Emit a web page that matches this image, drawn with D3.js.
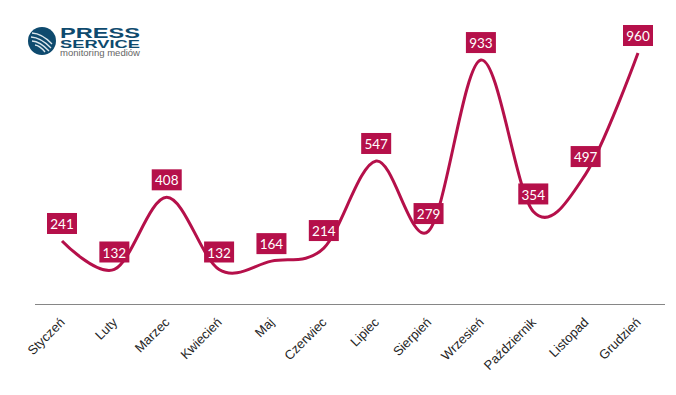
<!DOCTYPE html>
<html lang="en">
<head>
<meta charset="utf-8">
<title>Press Service</title>
<script src="https://d3js.org/d3.v7.min.js"></script>
<style>
  html, body { margin: 0; background: #fff; }
  svg { display: block; font-family: Lato, sans-serif; }
  .axis text { font-size: 13px; fill: #262626; }
  .labels { font-size: 13.5px; fill: #fff; }
</style>
</head>
<body>
<script>
// Data
const months = ["Styczeń", "Luty", "Marzec", "Kwiecień", "Maj", "Czerwiec", "Lipiec", "Sierpień", "Wrzesień", "Październik", "Listopad", "Grudzień"];
const counts = [241, 132, 408, 132, 164, 214, 547, 279, 933, 354, 497, 960];

// constants
const w = 676, h = 395;
const lineColor = "#b5104a";
const navy = "#0e4a6e";

const svg = d3.select("body").append("svg").attr("width", w).attr("height", h);

const x = d3.scalePoint().domain(months).range([62, 638]);
const y = d3.scaleLinear().domain([0, 960]).range([304, 53]);

// axis
const axis = svg.append("g")
  .attr("class", "axis")
  .attr("transform", "translate(0,304)")
  .call(d3.axisBottom(x).tickSize(0).tickSizeOuter(0));
axis.select(".domain").remove();
axis.append("line").attr("x1", 35).attr("x2", 665).attr("y1", 0.5).attr("y2", 0.5)
  .attr("stroke", "#868686").attr("stroke-width", 1);
axis.selectAll("text")
  .attr("text-anchor", "end")
  .attr("dy", 0)
  .attr("transform", "translate(1,17) rotate(-45)");

// line
const line = d3.line()
  .x((d, i) => x(months[i]))
  .y(d => y(d))
  .curve(d3.curveCardinal.tension(0));

svg.append("path")
  .datum(counts)
  .attr("fill", "none")
  .attr("stroke", lineColor)
  .attr("stroke-width", 3)
  .attr("d", line);

// labels
const labels = svg.selectAll("g.label")
  .data(counts)
  .enter()
  .append("g")
  .attr("class", "label")
  .attr("transform", (d, i) => "translate(" + x(months[i]) + "," + (y(d) - 17.5) + ")");

labels.append("rect")
  .attr("x", -15).attr("y", -10.5)
  .attr("width", 30).attr("height", 21)
  .attr("fill", lineColor);

labels.append("text")
  .attr("class", "labels")
  .attr("text-anchor", "middle")
  .attr("dy", "0.42em")
  .text(d => d);

// logo
const logo = svg.append("g").attr("transform", "translate(42,41)");
logo.append("circle").attr("r", 14).attr("fill", navy);
[[-10, -8, 10, 3], [-11, -4, 9, 7], [-10, 0, 7, 10], [-7, 4, 3, 11]].forEach(s => {
  logo.append("path")
    .attr("d", "M" + s[0] + "," + s[1] + "Q" + (s[0] + s[2]) * 0.6 + "," + (s[1] + 0.5) + " " + s[2] + "," + s[3])
    .attr("fill", "none").attr("stroke", "#dbe6ec").attr("stroke-width", 1.3);
});
const logoText = [["PRESS", 38, 14.5, navy, "bold", 80], ["SERVICE", 48, 11.5, navy, "bold", 80], ["monitoring mediów", 56, 9, "#666", "normal", 80]];
logoText.forEach(t => {
  svg.append("text").attr("x", 60).attr("y", t[1]).text(t[0])
    .attr("font-family", "'Liberation Sans'")
    .attr("font-size", t[2]).attr("fill", t[3]).attr("font-weight", t[4])
    .attr("textLength", t[5]).attr("lengthAdjust", "spacingAndGlyphs");
});
</script>
</body>
</html>
